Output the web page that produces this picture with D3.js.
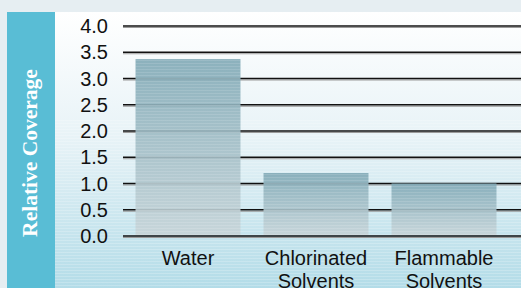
<!DOCTYPE html>
<html>
<head>
<meta charset="utf-8">
<script src="https://cdn.jsdelivr.net/npm/d3@7"></script>
<style>
  body { margin: 0; background: #e6eef2; }
  svg { display: block; }
</style>
</head>
<body>
<div id="chart"></div>
<script>
const categories = [["Water"], ["Chlorinated", "Solvents"], ["Flammable", "Solvents"]];
const values = [3.37, 1.2, 1.0];
const yTicks = [0, 0.5, 1, 1.5, 2, 2.5, 3, 3.5, 4];
const yTitle = "Relative Coverage";

const width = 521,
    height = 288,
    margin = ({ top: 26, right: 0, bottom: 52, left: 123 });

const svg = d3.select("#chart")
    .append("svg")
    .attr("width", width)
    .attr("height", height);

const defs = svg.append("defs");

// background gradient of the plot panel
const bg = defs.append("linearGradient")
    .attr("id", "bg").attr("x1", 0).attr("x2", 0).attr("y1", 0).attr("y2", 1);
bg.append("stop").attr("offset", "0%").attr("stop-color", "#ffffff");
bg.append("stop").attr("offset", "45%").attr("stop-color", "#e8f3f7");
bg.append("stop").attr("offset", "100%").attr("stop-color", "#b3dce8");

const barGrad = defs.append("linearGradient")
    .attr("id", "bar").attr("x1", 0).attr("x2", 0).attr("y1", 0).attr("y2", 1);
barGrad.append("stop").attr("offset", "0%").attr("stop-color", "#80a9b6");
barGrad.append("stop").attr("offset", "100%").attr("stop-color", "#c7d4d8");

const stripes = defs.append("pattern")
    .attr("id", "stripes")
    .attr("patternUnits", "userSpaceOnUse")
    .attr("width", 10).attr("height", 3);
stripes.append("rect")
    .attr("width", 10).attr("height", 1)
    .attr("fill", "#ffffff").attr("opacity", 0.2);

// top strip
svg.append("rect")
    .attr("width", width).attr("height", 12)
    .attr("fill", "#e6eef2");

// plot panel
svg.append("rect")
    .attr("x", 55).attr("y", 12)
    .attr("width", width - 55).attr("height", height - 12)
    .attr("fill", "url(#bg)");
svg.append("rect")
    .attr("x", 55).attr("y", 120)
    .attr("width", width - 55).attr("height", height - 120)
    .attr("fill", "url(#stripes)");

// title panel
svg.append("rect")
    .attr("x", 7).attr("y", 12)
    .attr("width", 48).attr("height", height - 12)
    .attr("fill", "#59bdd5");

svg.append("text")
    .attr("transform", "translate(37,153) rotate(-90)")
    .attr("text-anchor", "middle")
    .style("font-family", "'Liberation Serif', 'Times New Roman', serif")
    .style("font-weight", "bold")
    .style("font-size", "21.5px")
    .style("fill", "#ffffff")
    .text(yTitle);

const x = d3.scaleBand()
    .domain(d3.range(categories.length))
    .range([124, 508])
    .paddingInner(0.18)
    .paddingOuter(0.09);

const y = d3.scaleLinear()
    .domain([0, 4])
    .range([height - margin.bottom, margin.top]);

// grid lines
const grid = svg.append("g");
grid.selectAll(".shade")
    .data(yTicks)
    .join("line")
    .attr("x1", margin.left).attr("x2", width)
    .attr("y1", d => y(d) + 1.5).attr("y2", d => y(d) + 1.5)
    .attr("stroke", "#9a9a9a").attr("stroke-width", 1);
grid.selectAll(".line")
    .data(yTicks)
    .join("line")
    .attr("x1", margin.left).attr("x2", width)
    .attr("y1", d => y(d)).attr("y2", d => y(d))
    .attr("stroke", "#111").attr("stroke-width", 1.5);

// y tick labels
svg.append("g")
    .selectAll("text")
    .data(yTicks)
    .join("text")
    .attr("x", 108)
    .attr("y", d => y(d) + 7)
    .attr("text-anchor", "end")
    .style("font-family", "'Liberation Sans', Arial, sans-serif")
    .style("font-size", "20px")
    .style("fill", "#111")
    .text(d => d.toFixed(1));

// bars
const bar = svg.selectAll(".bar")
    .data(values)
    .join("g")
    .attr("class", "bar");

bar.append("rect")
    .attr("x", (d, i) => x(i))
    .attr("width", x.bandwidth())
    .attr("y", d => y(d))
    .attr("height", d => y(0) - 1 - y(d))
    .attr("fill", "url(#bar)")
    .attr("opacity", 0.9);

bar.append("rect")
    .attr("x", (d, i) => x(i))
    .attr("width", x.bandwidth())
    .attr("y", d => y(d))
    .attr("height", d => y(0) - 1 - y(d))
    .attr("fill", "url(#stripes)")
    .attr("opacity", 0.6);

// category labels
const lab = svg.append("g")
    .selectAll("text")
    .data(categories)
    .join("text")
    .attr("text-anchor", "middle")
    .style("font-family", "'Liberation Sans', Arial, sans-serif")
    .style("font-size", "20px")
    .style("fill", "#111");

lab.selectAll("tspan")
    .data((d, i) => d.map(t => ({ t, i })))
    .join("tspan")
    .attr("x", d => x(d.i) + x.bandwidth() / 2)
    .attr("y", (d, j) => 265 + j * 23)
    .text(d => d.t);
</script>
</body>
</html>
